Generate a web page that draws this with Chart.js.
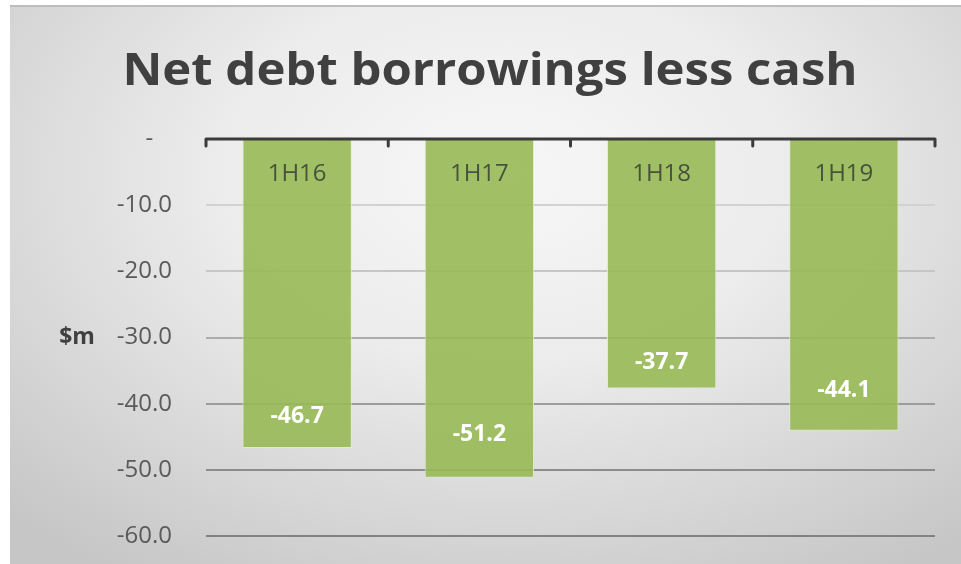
<!DOCTYPE html>
<html>
<head>
<meta charset="utf-8">
<script src="https://cdn.jsdelivr.net/npm/chart.js@4"></script>
<style>
  html, body { margin: 0; padding: 0; background: #fff; }
  #wrap {
    position: absolute; left: 10px; top: 5px; width: 951px; height: 559px;
    background: radial-gradient(ellipse 75% 85% at 52% 30%, #f7f7f7 0%, #ececec 40%, #d6d6d6 75%, #c6c6c6 100%);
    box-shadow: inset 0 2px 0 #bdbdbd;
  }
  canvas { display: block; }
</style>
</head>
<body>
<div id="wrap"><canvas id="chart" width="951" height="559"></canvas></div>
<script>
// Data
const categories = ['1H16', '1H17', '1H18', '1H19'];
const netDebt = [-46.7, -51.2, -37.7, -44.1];
const yTicks = [0, -10, -20, -30, -40, -50, -60];
const chartTitle = 'Net debt borrowings less cash';
const yUnit = '$m';

// how far above the bar end each value label sits (px)
const labelLift = [32, 43, 26, 40];

const FONT = '"Open Sans", "DejaVu Sans", sans-serif';

const gridColors = { '-10': '#d2d2d2', '-20': '#c6c6c6', '-30': '#acacac', '-40': '#9c9c9c', '-50': '#8c8c8c', '-60': '#828282' };

const decorations = {
  id: 'decorations',
  afterDatasetsDraw(chart) {
    const { ctx, chartArea } = chart;
    const x = chart.scales.x;
    const y = chart.scales.y;
    const zeroY = y.getPixelForValue(0);
    ctx.save();

    // zero axis line with category dividers
    ctx.strokeStyle = '#3b3b3b';
    ctx.lineWidth = 3;
    ctx.lineCap = 'round';
    ctx.beginPath();
    ctx.moveTo(x.left, zeroY);
    ctx.lineTo(x.right, zeroY);
    const step = (x.right - x.left) / categories.length;
    for (let i = 0; i <= categories.length; i++) {
      const px = x.left + i * step;
      ctx.moveTo(px, zeroY);
      ctx.lineTo(px, zeroY + 7);
    }
    ctx.stroke();

    // category labels inside the bars
    ctx.textAlign = 'center';
    ctx.textBaseline = 'middle';
    ctx.fillStyle = '#46533a';
    ctx.font = `24px ${FONT}`;
    categories.forEach((c, i) => {
      ctx.fillText(c, x.getPixelForValue(i), zeroY + 35);
    });

    // value labels
    ctx.fillStyle = '#ffffff';
    ctx.font = `bold 23px ${FONT}`;
    const meta = chart.getDatasetMeta(0);
    meta.data.forEach((bar, i) => {
      ctx.fillText(netDebt[i].toFixed(1), bar.x, bar.y - labelLift[i]);
    });

    // unit label
    ctx.fillStyle = '#404040';
    ctx.font = `bold 23px ${FONT}`;
    ctx.fillText(yUnit, 67, (chartArea.top + chartArea.bottom) / 2);

    // title, stretched to the reference width
    ctx.fillStyle = '#404040';
    ctx.font = `bold 45px ${FONT}`;
    ctx.textBaseline = 'alphabetic';
    const w = ctx.measureText(chartTitle).width;
    ctx.translate(480, 80);
    ctx.scale(735 / w, 1);
    ctx.fillText(chartTitle, 0, 0);
    ctx.restore();
  }
};

new Chart(document.getElementById('chart'), {
  type: 'bar',
  data: {
    labels: categories,
    datasets: [{
      data: netDebt,
      backgroundColor: 'rgba(152, 186, 86, 0.9)',
      borderColor: 'rgba(225, 238, 200, 0.9)',
      borderWidth: 1,
      borderSkipped: 'start',
      barPercentage: 0.6,
      categoryPercentage: 1
    }]
  },
  options: {
    responsive: false,
    animation: false,
    layout: { padding: { top: 134, right: 26, bottom: 28, left: 0 } },
    plugins: { legend: { display: false }, title: { display: false }, tooltip: { enabled: false } },
    scales: {
      x: { display: false },
      y: {
        min: -60,
        max: 0,
        afterFit(scale) {
          scale.width = 196;
          scale.paddingTop = 0;
          scale.paddingBottom = 0;
        },
        afterBuildTicks(scale) { scale.ticks = yTicks.map(v => ({ value: v })); },
        border: { display: false },
        grid: {
          drawTicks: false,
          color: (c) => gridColors[String(c.tick.value)] || 'rgba(0,0,0,0)',
          lineWidth: (c) => (c.tick.value === 0 ? 0 : 2)
        },
        ticks: {
          padding: 34,
          color: '#5a5a5a',
          font: { family: FONT, size: 24 },
          callback: (v) => (v === 0 ? '-   ' : Number(v).toFixed(1))
        }
      }
    }
  },
  plugins: [decorations]
});
</script>
</body>
</html>
